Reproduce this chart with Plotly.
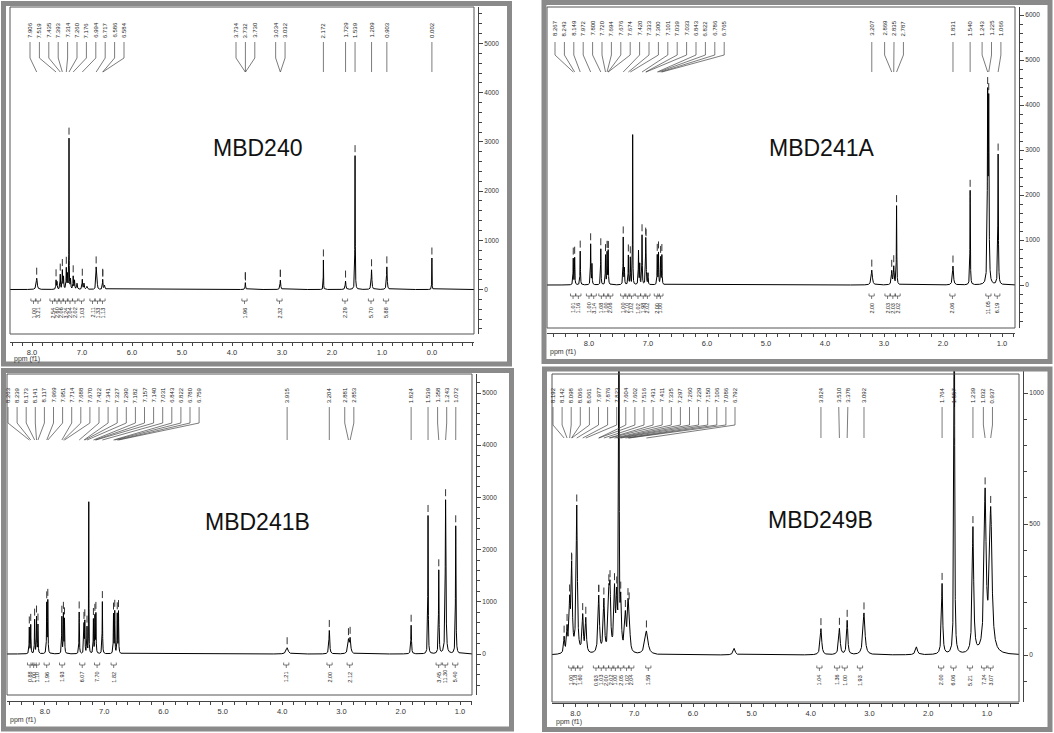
import numpy as np
import plotly.graph_objects as go

W, H = 1054, 733

# ================= DATA =================
# ---- Panel 1 : MBD240 ----
p1_name = "MBD240"
p1_ppm = [7.906, 7.519, 7.500, 7.435, 7.393, 7.370, 7.314, 7.290, 7.260, 7.230, 7.176, 7.150, 7.100,
          6.994, 6.960, 6.900, 6.717, 6.700, 6.586, 6.550, 3.733, 3.033, 2.172, 1.729, 1.539, 1.209, 0.903, 0.002]
p1_height = [230, 180, 150, 300, 380, 250, 420, 300, 3050, 200, 260, 180, 120,
             200, 120, 60, 430, 250, 200, 80, 140, 190, 600, 170, 2720, 400, 460, 640]
p1_hw = [0.012, 0.005, 0.006, 0.005, 0.005, 0.006, 0.005, 0.006, 0.0025, 0.006, 0.005, 0.006, 0.008,
         0.006, 0.008, 0.010, 0.006, 0.006, 0.006, 0.010, 0.006, 0.008, 0.003, 0.008, 0.004, 0.008, 0.008, 0.003]
p1_labels = [7.906, 7.519, 7.435, 7.393, 7.314, 7.260, 7.176, 6.994, 6.717, 6.586, 6.584,
             3.734, 3.732, 3.730, 3.034, 3.032, 2.172, 1.729, 1.539, 1.209, 0.903, 0.002]
p1_int_ppm = [7.97, 7.88, 7.59, 7.50, 7.42, 7.33, 7.24, 7.14, 7.01, 6.79, 6.69, 6.59, 3.75, 3.05, 1.74, 1.22, 0.92]
p1_int_val = [1.00, 3.21, 2.54, 2.60, 2.06, 3.24, 2.04, 2.02, 1.03, 2.11, 1.33, 1.13, 1.96, 2.32, 2.29, 5.70, 5.88]

# ---- Panel 2 : MBD241A ----
p2_name = "MBD241A"
p2_ppm = [8.267, 8.243, 8.149, 7.972, 7.950, 7.800, 7.720, 7.694, 7.675, 7.420, 7.400, 7.333, 7.300, 7.260,
          7.161, 7.140, 7.101, 7.039, 7.033, 7.000, 6.843, 6.822, 6.786, 6.765,
          3.207, 2.869, 2.835, 2.787, 1.831, 1.540, 1.243, 1.225, 1.066]
p2_height = [580, 600, 750, 900, 450, 800, 650, 700, 750, 1050, 350, 650, 600, 3330,
             750, 450, 1100, 800, 750, 250, 650, 700, 600, 650,
             330, 300, 400, 1750, 420, 2100, 4000, 3850, 2900]
p2_hw = [0.004] * 13 + [0.0025] + [0.004] * 10 + [0.012, 0.008, 0.008, 0.004, 0.010, 0.004, 0.006, 0.006, 0.005]
p2_labels = [8.267, 8.243, 8.149, 7.972, 7.800, 7.720, 7.694, 7.676, 7.674, 7.420, 7.333, 7.300, 7.101,
             7.039, 7.033, 6.843, 6.822, 6.786, 6.765, 3.207, 2.869, 2.835, 2.787, 1.831, 1.540, 1.243, 1.225, 1.066]
p2_int_ppm = [8.27, 8.18, 8.00, 7.92, 7.79, 7.71, 7.64, 7.42, 7.35, 7.28, 7.17, 7.08, 7.01, 6.85, 6.79,
              3.21, 2.94, 2.85, 2.77, 1.84, 1.23, 1.08]
p2_int_val = [1.01, 1.16, 1.00, 3.14, 1.08, 1.00, 2.06, 1.00, 2.10, 1.02, 1.02, 1.98, 2.02, 2.00, 1.00,
              2.00, 2.03, 2.03, 2.02, 2.06, 11.05, 6.19]

# ---- Panel 3 : MBD241B ----
p3_name = "MBD241B"
p3_ppm = [8.263, 8.239, 8.173, 8.141, 8.117, 7.969, 7.951, 7.714, 7.688, 7.670, 7.422, 7.341, 7.327, 7.290, 7.260,
          7.182, 7.157, 7.140, 7.031, 6.843, 6.822, 6.780, 6.759,
          3.915, 3.204, 2.881, 2.853, 1.824, 1.539, 1.358, 1.243, 1.072]
p3_height = [500, 550, 650, 700, 550, 950, 1000, 700, 750, 650, 800, 550, 600, 500, 2900,
             650, 700, 750, 1000, 750, 800, 750, 800,
             120, 450, 250, 280, 550, 2650, 1600, 2950, 2450]
p3_hw = [0.004] * 14 + [0.0025] + [0.004] * 8 + [0.02, 0.008, 0.012, 0.012, 0.006, 0.004, 0.005, 0.007, 0.005]
p3_labels = [8.263, 8.239, 8.173, 8.141, 8.117, 7.969, 7.951, 7.714, 7.688, 7.670, 7.422, 7.341, 7.327, 7.290,
             7.182, 7.157, 7.140, 7.031, 6.843, 6.822, 6.780, 6.759,
             3.915, 3.204, 2.881, 2.853, 1.824, 1.539, 1.358, 1.243, 1.072]
p3_int_ppm = [8.25, 8.19, 8.14, 7.97, 7.71, 7.37, 7.12, 6.84, 3.93, 3.20, 2.86, 1.36, 1.25, 1.08]
p3_int_val = [0.88, 1.00, 1.10, 1.96, 1.93, 6.07, 7.70, 1.82, 1.21, 2.00, 2.12, 3.45, 11.30, 5.40]

# ---- Panel 4 : MBD249B ----
p4_name = "MBD249B"
p4_ppm = [8.192, 8.142, 8.098, 8.066, 8.061, 7.977, 7.876, 7.823, 7.604, 7.602, 7.516, 7.431, 7.411, 7.335,
          7.297, 7.260, 7.229, 7.150, 7.106, 7.086, 6.792, 5.300, 3.824, 3.510, 3.378, 3.092, 2.200,
          1.764, 1.557, 1.239, 1.032, 0.937]
p4_height = [60, 90, 180, 170, 170, 560, 140, 130, 110, 110, 200, 190, 210, 230,
             200, 3000, 190, 140, 150, 140, 90, 25, 100, 100, 130, 160, 30,
             270, 2000, 480, 600, 540]
p4_hw = [0.010, 0.010, 0.012, 0.012, 0.012, 0.012, 0.012, 0.012, 0.014, 0.014, 0.013, 0.013, 0.013, 0.013,
         0.013, 0.003, 0.013, 0.016, 0.013, 0.013, 0.030, 0.020, 0.015, 0.015, 0.012, 0.020, 0.020,
         0.012, 0.006, 0.015, 0.020, 0.025]
p4_labels = [8.192, 8.142, 8.098, 8.066, 8.061, 7.977, 7.876, 7.823, 7.604, 7.602, 7.516, 7.431, 7.411, 7.335,
             7.297, 7.260, 7.229, 7.150, 7.106, 7.086, 6.792, 3.824, 3.510, 3.378, 3.092, 1.764, 1.557,
             1.239, 1.032, 0.937]
p4_int_ppm = [8.07, 8.00, 7.92, 7.65, 7.56, 7.48, 7.39, 7.32, 7.23, 7.13, 7.05, 6.76, 3.85, 3.55, 3.42, 3.16,
              1.78, 1.57, 1.29, 1.05, 0.94]
p4_int_val = [1.00, 2.18, 1.60, 0.93, 1.03, 2.00, 2.02, 1.00, 2.05, 1.02, 2.04, 1.59, 1.04, 1.36, 1.00, 1.93,
              2.00, 6.06, 5.21, 7.24, 3.07]

# ================= LAYOUT GEOMETRY (pixels) =================
geo = [
    dict(name=p1_name, ppm=p1_ppm, h=p1_height, hw=p1_hw, labels=p1_labels, ip=p1_int_ppm, iv=p1_int_val,
         border=(3.5, 3.5, 509.5, 364), box=(10, 7, 474, 334), dom_top=7,
         xref_ppm=0.0, xref_px=432, ppm_px=50.0, y0=289.5, vpx=0.0492,
         xaxis_y=342, yaxis_x=478, lab_y=30, stem=(42, 58, 72), int_y=301, int_txt=313,
         name_xy=(257, 148), ppm_xy=(12, 359), ydt=1000, ymin=200, gap=9.4, lo=30),
    dict(name=p2_name, ppm=p2_ppm, h=p2_height, hw=p2_hw, labels=p2_labels, ip=p2_int_ppm, iv=p2_int_val,
         border=(544, 2.5, 1050, 361.5), box=(547, 7, 1015, 328), dom_top=7,
         xref_ppm=1.0, xref_px=1002, ppm_px=59.0, y0=285, vpx=0.045,
         xaxis_y=333, yaxis_x=1019, lab_y=28, stem=(42, 55, 72), int_y=296, int_txt=308,
         name_xy=(821, 148), ppm_xy=(548, 352), ydt=1000, ymin=200, gap=9.4, lo=555),
    dict(name=p3_name, ppm=p3_ppm, h=p3_height, hw=p3_hw, labels=p3_labels, ip=p3_int_ppm, iv=p3_int_val,
         border=(3.5, 370.5, 511.5, 729), box=(7, 374, 472, 695), dom_top=374,
         xref_ppm=1.0, xref_px=460, ppm_px=59.3, y0=654, vpx=0.0522,
         xaxis_y=701, yaxis_x=476, lab_y=395, stem=(407, 423, 440), int_y=665, int_txt=677,
         name_xy=(257, 522), ppm_xy=(8, 720), ydt=1000, ymin=200, gap=9.1, lo=8),
    dict(name=p4_name, ppm=p4_ppm, h=p4_height, hw=p4_hw, labels=p4_labels, ip=p4_int_ppm, iv=p4_int_val,
         border=(544.5, 369, 1050, 729.5), box=(552, 374, 1019, 702), dom_top=368,
         xref_ppm=1.0, xref_px=987, ppm_px=58.8, y0=655, vpx=0.262,
         xaxis_y=703, yaxis_x=1023, lab_y=395, stem=(407, 425, 438), int_y=668, int_txt=680,
         name_xy=(820, 520), ppm_xy=(554, 722), ydt=500, ymin=100, gap=9.1, lo=553),
]

FONT = "Liberation Sans, Arial, sans-serif"
INK = "#222222"


def spread(px, gap, lo):
    clusters = [[p] for p in px]

    def span(c):
        n = len(c)
        s = max(np.mean(c) - (n - 1) * gap / 2, lo)
        return s, s + (n - 1) * gap

    changed = True
    while changed:
        changed = False
        out = []
        for c in clusters:
            if out and span(c)[0] - span(out[-1])[1] < gap:
                out[-1] = out[-1] + c
                changed = True
            else:
                out.append(c)
        clusters = out
    res = []
    for c in clusters:
        s, _ = span(c)
        res += [s + i * gap for i in range(len(c))]
    return res


fig = go.Figure()
layout = dict(width=W, height=H, margin=dict(l=0, r=0, t=0, b=0), autosize=False,
              paper_bgcolor="white", plot_bgcolor="rgba(0,0,0,0)", showlegend=False)
shapes, annotations = [], []

for i, g in enumerate(geo):
    sfx = "" if i == 0 else str(i + 1)
    xa, ya = "x" + sfx, "y" + sfx
    L, T, R, B = g["box"]

    def ppm_of(px, g=g):
        return g["xref_ppm"] + (g["xref_px"] - px) / g["ppm_px"]

    def px_of(ppm, g=g):
        return g["xref_px"] - (ppm - g["xref_ppm"]) * g["ppm_px"]

    def val_of(py, g=g):
        return (g["y0"] - py) / g["vpx"]

    ppmL, ppmR = ppm_of(L), ppm_of(R)
    vB, vT = val_of(B), val_of(g["dom_top"])

    # spectrum
    c = np.array(g["ppm"]); hh = np.array(g["h"]); ww = np.array(g["hw"])
    grid = np.union1d(np.linspace(ppmR, ppmL, 14000), c)

    def spec(x):
        x = np.atleast_1d(x)[:, None]
        return (hh / (1 + ((x - c) / ww) ** 2)).sum(axis=1)

    fig.add_trace(go.Scatter(x=grid, y=spec(grid), mode="lines", xaxis=xa, yaxis=ya,
                             line=dict(color="#000000", width=1), hoverinfo="skip"))

    # peak labels
    labs = sorted(g["labels"], reverse=True)
    peak_px = [px_of(p) for p in labs]
    lab_px = spread(peak_px, g["gap"], g["lo"])
    s0, s1, s2 = g["stem"]
    sx, sy = [], []
    for p, lp, pp in zip(labs, lab_px, peak_px):
        sx += [ppm_of(lp), ppm_of(lp), p, None]
        sy += [val_of(s0), val_of(s1), val_of(s2), None]
        annotations.append(dict(x=ppm_of(lp), y=val_of(g["lab_y"]), xref=xa, yref=ya, text=f"{p:.3f}",
                                textangle=-90, showarrow=False, xanchor="center", yanchor="middle",
                                font=dict(size=6, color=INK, family=FONT)))
    fig.add_trace(go.Scatter(x=sx, y=sy, mode="lines", xaxis=xa, yaxis=ya,
                             line=dict(color="#444444", width=0.7), hoverinfo="skip"))
    # peak pick marks
    tops = spec(np.array(labs))
    fig.add_trace(go.Scatter(x=labs, y=tops + 7 / g["vpx"], mode="markers", xaxis=xa, yaxis=ya,
                             marker=dict(symbol="line-ns-open", size=5, color="#333333",
                                         line=dict(color="#333333", width=1)),
                             hoverinfo="skip", cliponaxis=True))

    # integrals
    bx, by = [], []
    hwp = 2.6 / g["ppm_px"]
    yb = g["int_y"]
    for p in g["ip"]:
        bx += [p + hwp, p + hwp, p - hwp, p - hwp, None, p, p, None]
        by += [val_of(yb - 2.5), val_of(yb), val_of(yb), val_of(yb - 2.5), None,
               val_of(yb), val_of(yb + 3), None]
    fig.add_trace(go.Scatter(x=bx, y=by, mode="lines", xaxis=xa, yaxis=ya,
                             line=dict(color="#444444", width=0.7), hoverinfo="skip"))
    for p, v in zip(g["ip"], g["iv"]):
        annotations.append(dict(x=p, y=val_of(g["int_txt"]), xref=xa, yref=ya, text=f"{v:.2f}",
                                textangle=-90, showarrow=False, xanchor="center", yanchor="middle",
                                font=dict(size=5.5, color=INK, family=FONT)))

    # axes
    layout["xaxis" + sfx] = dict(
        domain=[L / W, R / W], range=[ppmL, ppmR], anchor="free", position=1 - g["xaxis_y"] / H,
        showline=True, linecolor="#444", linewidth=1, ticks="outside", ticklen=3, tickcolor="#444",
        tick0=0, dtick=1, tickformat=".1f", tickfont=dict(size=7.5, color="#333", family=FONT),
        showgrid=False, zeroline=False,
        minor=dict(dtick=0.2, tick0=0, ticks="outside", ticklen=3, tickcolor="#444", showgrid=False))
    layout["yaxis" + sfx] = dict(
        domain=[1 - B / H, 1 - g["dom_top"] / H], range=[vB, vT], anchor="free", position=g["yaxis_x"] / W,
        side="right", showline=True, linecolor="#444", linewidth=1, ticks="outside", ticklen=4,
        tickcolor="#444", dtick=g["ydt"], tick0=0, tickformat="d",
        tickfont=dict(size=6.5, color="#333", family=FONT), showgrid=False, zeroline=False,
        minor=dict(dtick=g["ymin"], tick0=0, ticks="outside", ticklen=2.5, tickcolor="#444", showgrid=False))

    # frame box and grey panel border
    shapes.append(dict(type="rect", xref="paper", yref="paper", x0=L / W, x1=R / W,
                       y0=1 - B / H, y1=1 - T / H, line=dict(color="#555555", width=1), layer="above"))
    bx0, by0, bx1, by1 = g["border"]
    shapes.append(dict(type="rect", xref="paper", yref="paper", x0=bx0 / W, x1=bx1 / W,
                       y0=1 - by1 / H, y1=1 - by0 / H, line=dict(color="#8a8a8a", width=5), layer="above"))

    # compound name and axis title
    annotations.append(dict(x=g["name_xy"][0] / W, y=1 - g["name_xy"][1] / H, xref="paper", yref="paper",
                            text=g["name"], showarrow=False, xanchor="center", yanchor="middle",
                            font=dict(size=23, color="#111", family=FONT)))
    annotations.append(dict(x=g["ppm_xy"][0] / W, y=1 - g["ppm_xy"][1] / H, xref="paper", yref="paper",
                            text="ppm (f1)", showarrow=False, xanchor="left", yanchor="middle",
                            font=dict(size=7, color="#333", family=FONT)))

layout["shapes"] = shapes
layout["annotations"] = annotations
fig.update_layout(**layout)
fig.write_html("out.html")
